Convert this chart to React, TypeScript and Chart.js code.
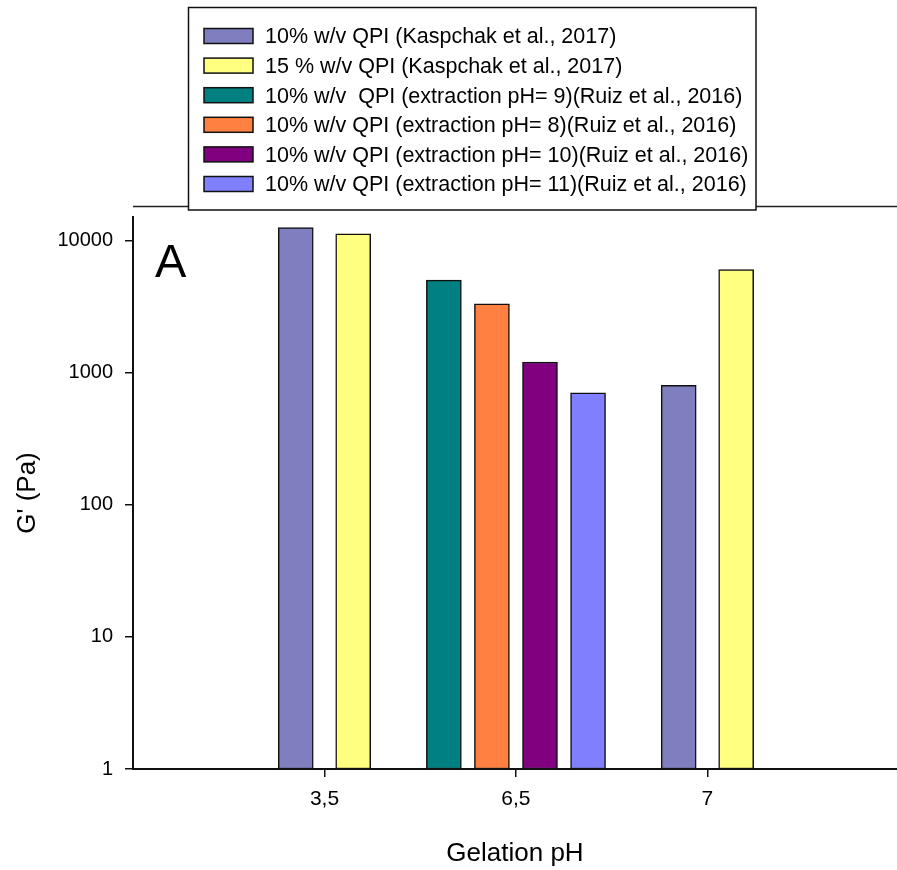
import React, { useEffect, useRef } from "react";
import { Chart, registerables } from "chart.js";

Chart.register(...registerables);

// ---------- data ----------
const categories = ["3,5", "6,5", "7"];
const seriesLabels = [
  "10% w/v QPI (Kaspchak et al., 2017)",
  "15 % w/v QPI (Kaspchak et al., 2017)",
  "10% w/v  QPI (extraction pH= 9)(Ruiz et al., 2016)",
  "10% w/v QPI (extraction pH= 8)(Ruiz et al., 2016)",
  "10% w/v QPI (extraction pH= 10)(Ruiz et al., 2016)",
  "10% w/v QPI (extraction pH= 11)(Ruiz et al., 2016)",
];
const kaspchak10 = [12500, null, 800];
const kaspchak15 = [11200, null, 6000];
const ruizPH9 = [null, 5000, null];
const ruizPH8 = [null, 3300, null];
const ruizPH10 = [null, 1200, null];
const ruizPH11 = [null, 700, null];
const seriesColors = ["#7F7FBF", "#FFFF80", "#008080", "#FF8040", "#800080", "#8080FF"];
const yTickValues = [1, 10, 100, 1000, 10000];
const xTitle = "Gelation pH";
const yTitle = "G' (Pa)";
const panelLabel = "A";

const FONT = "'Liberation Sans', Arial, Helvetica, sans-serif";

export default function App() {
  const ref = useRef<HTMLCanvasElement | null>(null);

  useEffect(() => {
    document.body.style.margin = "0";
    const canvas = ref.current;
    if (!canvas) return;
    const allSeries = [kaspchak10, kaspchak15, ruizPH9, ruizPH8, ruizPH10, ruizPH11];

    const datasets = allSeries.map((vals, si) => {
      const pts: { x: number; y: number }[] = [];
      vals.forEach((v, ci) => {
        if (v == null) return;
        const present = allSeries
          .map((s, k) => (s[ci] != null ? k : -1))
          .filter((k) => k >= 0);
        const n = present.length;
        const k = present.indexOf(si);
        const pitch = n > 2 ? 0.251 : 0.3;
        pts.push({ x: ci + (k - (n - 1) / 2) * pitch, y: v as number });
      });
      return {
        label: seriesLabels[si],
        data: pts,
        backgroundColor: seriesColors[si],
        borderColor: "#111",
        borderWidth: 1.5,
        borderSkipped: false as const,
        barThickness: 35,
        grouped: false,
      };
    });

    const decorPlugin = {
      id: "decor",
      afterDraw(chart: any) {
        const ctx = chart.ctx as CanvasRenderingContext2D;
        const area = chart.chartArea;
        ctx.save();
        // top frame line
        ctx.strokeStyle = "#222";
        ctx.lineWidth = 1.5;
        ctx.beginPath();
        ctx.moveTo(area.left, area.top - 10.5);
        ctx.lineTo(area.right, area.top - 10.5);
        ctx.stroke();

        // panel letter
        ctx.fillStyle = "#000";
        ctx.font = `47px ${FONT}`;
        ctx.textBaseline = "alphabetic";
        ctx.textAlign = "left";
        ctx.fillText(panelLabel, 155, 277);

        // legend box
        const bx = 188.5, by = 7.5, bw = 567.5, bh = 202.5;
        ctx.fillStyle = "#fff";
        ctx.fillRect(bx, by, bw, bh);
        ctx.strokeStyle = "#111";
        ctx.lineWidth = 1.5;
        ctx.strokeRect(bx, by, bw, bh);
        const ds = chart.data.datasets;
        ds.forEach((d: any, i: number) => {
          const sy = 28.5 + i * 29.6;
          ctx.fillStyle = d.backgroundColor;
          ctx.fillRect(204, sy, 49, 15);
          ctx.strokeStyle = "#111";
          ctx.lineWidth = 1.5;
          ctx.strokeRect(204, sy, 49, 15);
          ctx.fillStyle = "#000";
          ctx.font = `21.5px ${FONT}`;
          ctx.textBaseline = "middle";
          ctx.fillText(d.label, 265, sy + 9);
        });
        ctx.restore();
      },
    };

    const chart = new Chart(canvas, {
      type: "bar",
      data: { datasets } as any,
      plugins: [decorPlugin],
      options: {
        animation: false,
        responsive: false,
        devicePixelRatio: 1,
        layout: { padding: { top: 217, right: 0, bottom: 0, left: 0 } },
        plugins: { legend: { display: false }, tooltip: { enabled: false } },
        scales: {
          x: {
            type: "linear",
            offset: false,
            min: -1,
            max: 2.99,
            afterBuildTicks: (scale: any) => {
              scale.ticks = categories.map((_, i) => ({ value: i }));
            },
            afterFit: (scale: any) => {
              scale.height = 101;
            },
            ticks: {
              callback: (v: any) => categories[Math.round(Number(v))] ?? "",
              color: "#000",
              font: { family: FONT, size: 21 },
              padding: 10,
              maxRotation: 0,
              autoSkip: false,
            },
            grid: {
              display: true,
              offset: false,
              drawOnChartArea: false,
              drawTicks: true,
              tickLength: 8,
              color: "#111",
              lineWidth: 1.5,
            },
            border: { display: true, color: "#111", width: 2 },
            title: {
              display: true,
              text: xTitle,
              color: "#000",
              font: { family: FONT, size: 26 },
              padding: { top: 0, bottom: 1 },
            },
          },
          y: {
            type: "logarithmic",
            min: 1,
            max: 15000,
            afterBuildTicks: (scale: any) => {
              scale.ticks = yTickValues.map((v) => ({ value: v, major: true }));
            },
            afterFit: (scale: any) => {
              scale.width = 133;
            },
            ticks: {
              callback: (v: any) => String(v),
              color: "#000",
              font: { family: FONT, size: 20 },
              padding: 12,
              autoSkip: false,
            },
            grid: {
              display: true,
              drawOnChartArea: false,
              drawTicks: true,
              tickLength: 8,
              color: "#111",
              lineWidth: 1.5,
            },
            border: { display: true, color: "#111", width: 2 },
            title: {
              display: true,
              text: yTitle,
              color: "#000",
              font: { family: FONT, size: 26 },
              padding: { top: 12, bottom: 0 },
            },
          },
        },
      } as any,
    });

    return () => chart.destroy();
  }, []);

  return (
    <div style={{ position: "fixed", left: 0, top: 0, width: 897, height: 870, background: "#fff" }}>
      <canvas ref={ref} width={897} height={870} style={{ display: "block" }} />
    </div>
  );
}
